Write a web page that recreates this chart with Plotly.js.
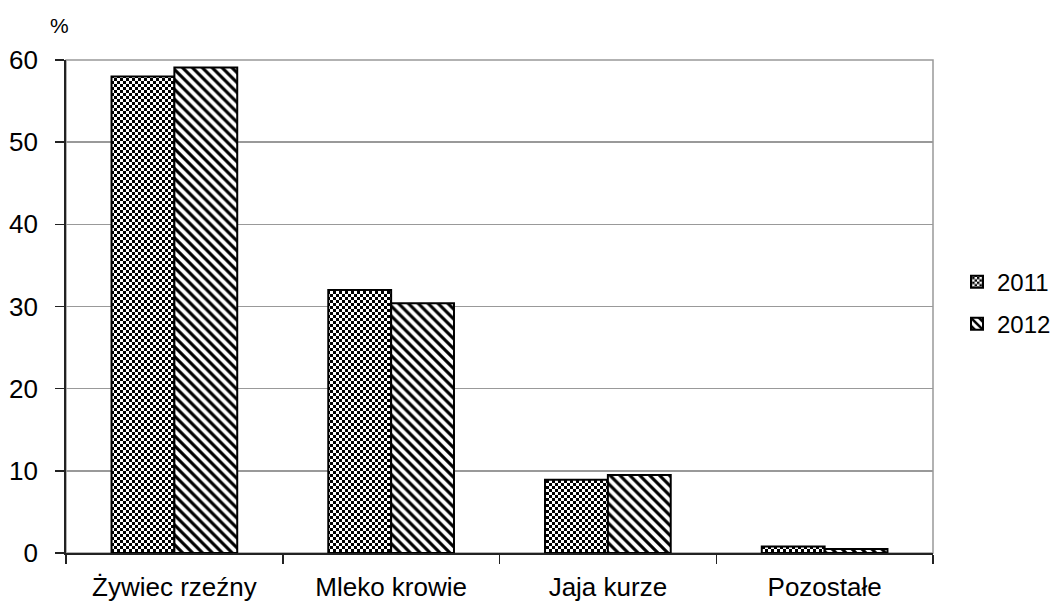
<!DOCTYPE html>
<html>
<head>
<meta charset="utf-8">
<script src="https://cdn.plot.ly/plotly-3.0.1.min.js"></script>
<style>html,body{margin:0;padding:0;background:#fff;}#chart{width:1052px;height:601px;}</style>
</head>
<body>
<div id="chart"></div>
<script>
var categories = ['Żywiec rzeźny', 'Mleko krowie', 'Jaja kurze', 'Pozostałe'];
var seriesNames = ['2011', '2012'];
var values2011 = [58.0, 32.0, 8.9, 0.8];
var values2012 = [59.1, 30.4, 9.5, 0.5];
var yTickVals = [0, 10, 20, 30, 40, 50, 60];
var unitLabel = '%';

var FONT = 'Liberation Sans, Arial, sans-serif';

var traces = [
  {
    type: 'bar', name: seriesNames[0], x: categories, y: values2011,
    legendgroup: 'a',
    marker: {
      color: '#ffffff',
      line: {color: '#000000', width: 2},
      pattern: {shape: '.', fgcolor: '#000000', bgcolor: '#ffffff', size: 6, solidity: 0.5}
    },
    hoverinfo: 'x+y'
  },
  {
    type: 'bar', name: seriesNames[1], x: categories, y: values2012,
    legendgroup: 'b',
    marker: {
      color: '#ffffff',
      line: {color: '#000000', width: 2},
      pattern: {shape: '\\', fgcolor: '#000000', bgcolor: '#ffffff', size: 7, solidity: 0.45}
    },
    hoverinfo: 'x+y'
  }
];

var layout = {
  width: 1052, height: 601,
  margin: {l: 66, r: 119, t: 60, b: 48, autoexpand: false},
  paper_bgcolor: '#ffffff', plot_bgcolor: '#ffffff',
  font: {family: FONT, size: 26, color: '#000000'},
  barmode: 'group', bargap: 0.42, bargroupgap: 0,
  showlegend: true,
  legend: {
    x: 1.0277, y: 0.507, xanchor: 'left', yanchor: 'middle',
    font: {family: FONT, size: 24, color: '#000000'},
    traceorder: 'grouped', tracegroupgap: 8, itemwidth: 30,
    bgcolor: 'rgba(0,0,0,0)'
  },
  xaxis: {
    type: 'category', tickson: 'boundaries', ticks: 'outside', ticklen: 9, tickwidth: 1.5,
    tickcolor: '#222', showline: true, linecolor: '#222', linewidth: 1.5,
    showgrid: false, zeroline: false, ticklabelstandoff: 10,
    tickfont: {family: FONT, size: 26, color: '#000'}
  },
  yaxis: {
    range: [0, 60], tickvals: yTickVals, ticks: 'outside', ticklen: 9, tickwidth: 1.5,
    tickcolor: '#222', showline: true, linecolor: '#222', linewidth: 1.8,
    showgrid: true, gridcolor: '#999999', gridwidth: 1.5, zeroline: false,
    ticklabelstandoff: 12,
    tickfont: {family: FONT, size: 26, color: '#000'}
  },
  shapes: [{
    type: 'rect', xref: 'paper', yref: 'paper', x0: 0, x1: 1, y0: 0, y1: 1,
    line: {color: '#999999', width: 1.5}, layer: 'below'
  }],
  annotations: [{
    text: unitLabel, xref: 'paper', yref: 'paper', x: -0.007, y: 1.07,
    xanchor: 'center', yanchor: 'middle', showarrow: false,
    font: {family: FONT, size: 21, color: '#000'}
  }]
};

function checkerize() {
  var ns = 'http://www.w3.org/2000/svg';
  document.querySelectorAll('pattern').forEach(function (p) {
    if (!p.querySelector('circle')) return;
    while (p.firstChild) p.removeChild(p.firstChild);
    var s = 3;
    p.setAttribute('width', 2 * s);
    p.setAttribute('height', 2 * s);
    [[0, 0, 2 * s, 2 * s, '#ffffff'], [0, 0, s, s, '#000000'], [s, s, s, s, '#000000']].forEach(function (r) {
      var e = document.createElementNS(ns, 'rect');
      e.setAttribute('x', r[0]); e.setAttribute('y', r[1]);
      e.setAttribute('width', r[2]); e.setAttribute('height', r[3]);
      e.setAttribute('fill', r[4]);
      p.appendChild(e);
    });
  });
}

Plotly.newPlot('chart', traces, layout, {displayModeBar: false, staticPlot: true}).then(checkerize);
</script>
</body>
</html>
